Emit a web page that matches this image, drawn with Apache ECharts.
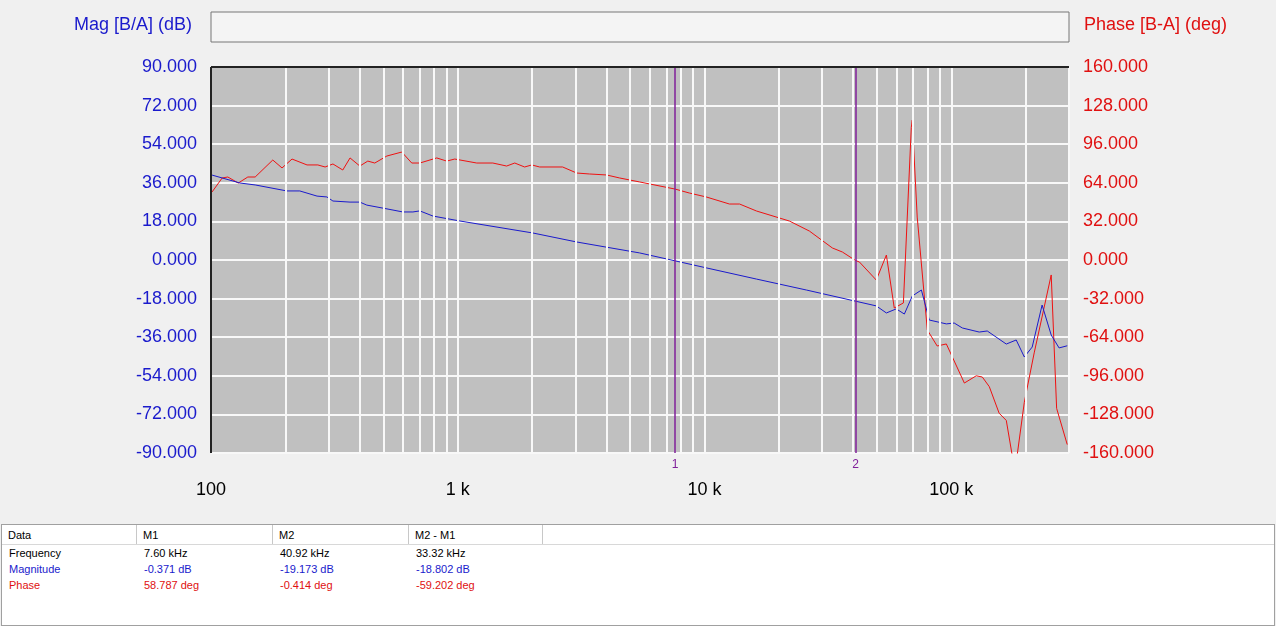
<!DOCTYPE html>
<html>
<head>
<meta charset="utf-8">
<script src="https://cdn.jsdelivr.net/npm/echarts@6/dist/echarts.min.js"></script>
<style>
body{margin:0;background:#f0f0f0;font-family:"Liberation Sans",Arial,sans-serif;}
#chart{position:absolute;left:0;top:0;width:1276px;height:520px;}
#panel{position:absolute;left:1px;top:524px;width:1272px;height:100px;background:#fff;border:1px solid #a0a0a0;font-size:11px;}
#panel .hd{height:19px;border-bottom:1px solid #d8d8d8;position:relative;}
#panel .hd span{position:absolute;top:0;height:19px;line-height:21px;padding-left:6px;border-right:1px solid #c8c8c8;box-sizing:border-box;}
#panel .row{position:relative;height:16px;line-height:16px;}
#panel .row span{position:absolute;padding-left:7px;}
</style>
</head>
<body>
<div id="chart"></div>
<div id="panel">
  <div class="hd"><span style="left:0;width:135px">Data</span><span style="left:135px;width:136px">M1</span><span style="left:271px;width:136px">M2</span><span style="left:407px;width:134px">M2 - M1</span></div>
  <div class="row" style="color:#000"><span style="left:0">Frequency</span><span style="left:135px">7.60 kHz</span><span style="left:271px">40.92 kHz</span><span style="left:407px">33.32 kHz</span></div>
  <div class="row" style="color:#1a1acc"><span style="left:0">Magnitude</span><span style="left:135px">-0.371 dB</span><span style="left:271px">-19.173 dB</span><span style="left:407px">-18.802 dB</span></div>
  <div class="row" style="color:#e01010"><span style="left:0">Phase</span><span style="left:135px">58.787 deg</span><span style="left:271px">-0.414 deg</span><span style="left:407px">-59.202 deg</span></div>
</div>
<script>
// frequencies (Hz) and values
var magFreq = [101,131,151,203,229,269,295,312,366,401,428,497,599,658,702,793,1019,2014,3034,5458,7600,10190,16250,25880,40920,49660,54580,59840,64560,69500,75680,81470,95500,102800,110900,129800,139900,167100,183300,197700,212800,233400,254100,273500,295100];
var magDb = [39.6,35.9,35.0,32.2,32.2,29.8,29.4,27.5,27.0,27.0,25.6,24.2,22.4,22.4,22.9,20.5,18.2,12.6,8.4,3.3,-0.4,-3.7,-8.9,-14.0,-19.2,-21.4,-24.7,-22.8,-25.2,-16.8,-14.0,-28.0,-29.8,-29.4,-31.7,-33.6,-33.1,-39.2,-37.3,-45.2,-40.6,-21.0,-35.0,-41.0,-40.0];
var phaseFreq = [101,111,117,129,141,151,178,194,213,245,271,290,312,342,366,401,432,461,516,593,651,702,822,902,972,1194,1387,1578,1702,1866,1995,2148,2661,3034,3420,4009,4529,5458,7600,8690,10190,12620,13870,16250,20140,22080,26610,32960,36220,40920,42460,49660,54580,58750,63970,68870,69500,72780,79980,87700,95500,113000,126200,133600,142600,156300,167100,176600,184900,197700,216800,254100,267300,295100];
var phaseDeg = [56.4,68.0,68.8,63.8,68.8,68.8,82.9,76.3,83.7,78.8,78.8,77.1,79.6,74.6,84.6,77.9,82.0,80.4,86.2,89.5,80.4,80.4,84.6,82.0,83.7,80.4,80.4,77.9,80.4,77.1,78.8,77.1,77.1,72.1,71.3,70.5,68.0,64.7,58.8,55.5,52.2,46.4,46.4,40.6,34.8,32.3,24.0,10.0,6.6,-0.4,-1.7,-16.6,4.1,-39.8,-35.6,110.0,116.0,35.6,-58.0,-71.3,-69.6,-102.0,-96.0,-97.0,-105.0,-127.0,-133.0,-162.0,-162.0,-118.0,-77.0,-12.4,-123.0,-153.0];
var gridFreqs = [200,300,400,500,600,700,800,900,1000,2000,3000,4000,5000,6000,7000,8000,9000,10000,20000,30000,40000,50000,60000,70000,80000,90000,100000,200000];
var markerFreqs = [7600, 40920];
var markerNames = ['1', '2'];

function pair(xs, ys) {
    var out = [];
    for (var i = 0; i < xs.length; i++) out.push([xs[i], ys[i]]);
    return out;
}

var chart = echarts.init(document.getElementById('chart'));
var vLines = gridFreqs.map(function (f) { return {xAxis: f}; });
var mLines = markerFreqs.map(function (f, i) {
    return {xAxis: f, label: {formatter: markerNames[i]}, lineStyle: {color: '#80209a', width: 1.5, type: 'solid'}};
});

chart.setOption({
    animation: false,
    backgroundColor: '#f0f0f0',
    graphic: [
        {type: 'rect', shape: {x: 211, y: 12, width: 858, height: 30}, style: {fill: '#f4f4f4', stroke: '#777', lineWidth: 1}},
        {type: 'text', left: 74, top: 16, style: {text: 'Mag [B/A] (dB)', fill: '#1a1acc', font: '18px "Liberation Sans", Arial'}},
        {type: 'text', left: 1084, top: 16, style: {text: 'Phase [B-A] (deg)', fill: '#e01010', font: '18px "Liberation Sans", Arial'}},
        {type: 'line', shape: {x1: 211, y1: 67, x2: 1069, y2: 67}, style: {stroke: '#222', lineWidth: 2}, z: 100},
        {type: 'line', shape: {x1: 211, y1: 67, x2: 211, y2: 453}, style: {stroke: '#222', lineWidth: 2}, z: 100}
    ],
    grid: {left: 211, right: 207, top: 67, bottom: 67, show: true, backgroundColor: '#c0c0c0', borderColor: '#666', borderWidth: 1},
    xAxis: {
        type: 'log', logBase: 10, min: 100, max: 300000,
        axisLine: {show: false}, axisTick: {show: false},
        splitLine: {show: true, lineStyle: {color: '#f8f8f8', width: 2}},
        axisLabel: {
            color: '#000', fontSize: 18, margin: 28, showMaxLabel: false,
            formatter: function (v) { return v >= 1000 ? (v / 1000) + ' k' : String(v); }
        }
    },
    yAxis: [{
        type: 'value', min: -90, max: 90, interval: 18,
        axisLine: {show: false}, axisTick: {show: false},
        splitLine: {lineStyle: {color: '#f8f8f8', width: 2}},
        axisLabel: {color: '#1a1acc', fontSize: 18, margin: 14, formatter: function (v) { return v.toFixed(3); }}
    }, {
        type: 'value', min: -160, max: 160, interval: 32,
        axisLine: {show: false}, axisTick: {show: false}, splitLine: {show: false},
        axisLabel: {color: '#e01010', fontSize: 18, margin: 14, formatter: function (v) { return v.toFixed(3); }}
    }],
    series: [{
        type: 'line', data: [], silent: true,
        markLine: {silent: true, symbol: 'none', label: {show: false},
            lineStyle: {color: '#f8f8f8', width: 2, type: 'solid'}, data: vLines}
    }, {
        type: 'line', data: [], silent: true, color: '#80209a',
        markLine: {silent: true, symbol: 'none',
            label: {show: true, position: 'start', color: '#80209a', fontSize: 12, distance: 6},
            data: mLines}
    }, {
        name: 'Phase', type: 'line', yAxisIndex: 1, data: pair(phaseFreq, phaseDeg),
        showSymbol: false, lineStyle: {color: '#ee1111', width: 1}, clip: true
    }, {
        name: 'Mag', type: 'line', yAxisIndex: 0, data: pair(magFreq, magDb),
        showSymbol: false, lineStyle: {color: '#1a1acc', width: 1}, clip: true
    }]
});
</script>
</body>
</html>
